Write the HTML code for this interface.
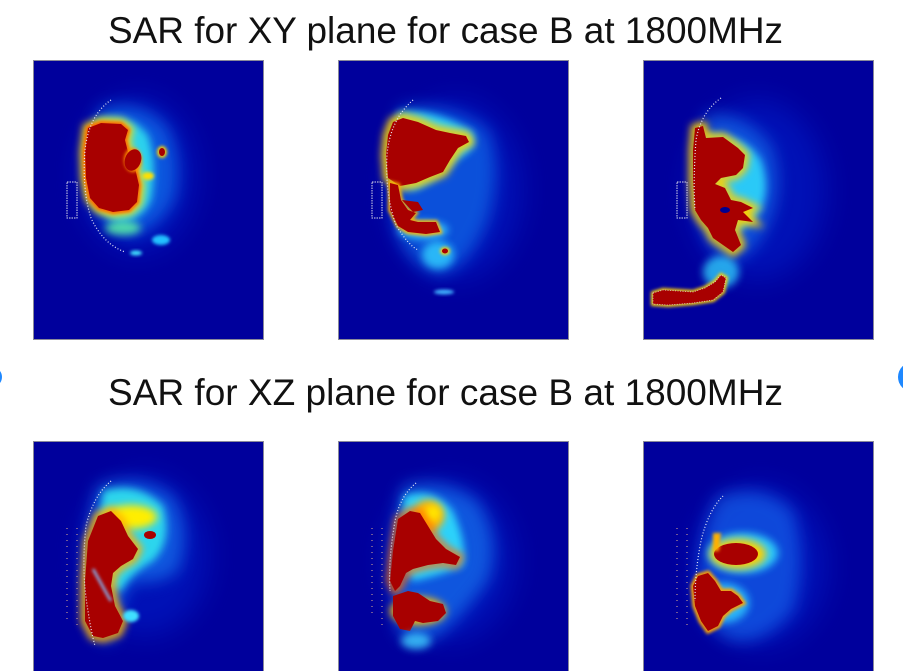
<!DOCTYPE html>
<html><head><meta charset="utf-8"><style>
html,body{margin:0;padding:0;background:#fff;width:903px;height:671px;overflow:hidden;}
svg{display:block;}
</style></head><body>
<svg width="903" height="671" viewBox="0 0 903 671" xmlns="http://www.w3.org/2000/svg">
<defs>
<filter id="b2" x="-50%" y="-50%" width="200%" height="200%"><feGaussianBlur stdDeviation="1.5"/></filter>
<filter id="b4" x="-50%" y="-50%" width="200%" height="200%"><feGaussianBlur stdDeviation="4"/></filter>
<filter id="b8" x="-50%" y="-50%" width="200%" height="200%"><feGaussianBlur stdDeviation="8"/></filter>
<filter id="b14" x="-50%" y="-50%" width="200%" height="200%"><feGaussianBlur stdDeviation="14"/></filter>
<clipPath id="cp"><rect x="0" y="0" width="231" height="280"/></clipPath>
<clipPath id="cpb"><rect x="0" y="0" width="231" height="230"/></clipPath>
</defs>
<rect width="903" height="671" fill="#fff"/>
<circle cx="-8" cy="377" r="10" fill="#1e88ff"/>
<circle cx="913" cy="377" r="15" fill="#1e88ff"/>

<text x="108" y="43" font-family="Liberation Sans, Arial, sans-serif" font-size="37" fill="#111" textLength="675" lengthAdjust="spacingAndGlyphs">SAR for XY plane for case B at 1800MHz</text>
<text x="108" y="405" font-family="Liberation Sans, Arial, sans-serif" font-size="37" fill="#111" textLength="675" lengthAdjust="spacingAndGlyphs">SAR for XZ plane for case B at 1800MHz</text>

<!-- Panel 1 -->
<g transform="translate(33,60)">
<g clip-path="url(#cp)">
<rect width="231" height="280" fill="#00009c"/>
<ellipse cx="105" cy="115" rx="58" ry="78" fill="#0030e8" opacity="0.35" filter="url(#b14)"/>
<path d="M68,48 Q110,38 135,68 Q150,100 142,138 Q128,168 98,176 Q70,172 60,140 Q52,90 68,48 Z" fill="#1890ff" opacity="0.55" filter="url(#b8)"/>
<path d="M62,60 Q95,50 115,75 Q125,105 118,140 Q108,162 85,162 Q62,155 56,130 Z" fill="#30e8f0" opacity="0.85" filter="url(#b4)"/>
<path d="M55,68 L68,63 L88,64 L95,70 L92,80 L95,92 L102,108 L106,125 L104,142 L96,150 L80,152 L66,148 L57,138 L53,118 L52,92 Z" fill="none" stroke="#ffd800" stroke-width="10" filter="url(#b4)"/>
<path d="M55,68 L68,63 L88,64 L95,70 L92,80 L95,92 L102,108 L106,125 L104,142 L96,150 L80,152 L66,148 L57,138 L53,118 L52,92 Z" fill="none" stroke="#ff6000" stroke-width="4" filter="url(#b2)"/>
<path d="M55,68 L68,63 L88,64 L95,70 L92,80 L95,92 L102,108 L106,125 L104,142 L96,150 L80,152 L66,148 L57,138 L53,118 L52,92 Z" fill="#a80000"/>
<ellipse cx="100" cy="100" rx="9" ry="12" fill="#ff9000" filter="url(#b2)"/>
<ellipse cx="100" cy="100" rx="8" ry="11" fill="#a80000" transform="rotate(20 100 100)"/>
<ellipse cx="129" cy="92" rx="5" ry="6" fill="#ffd000" filter="url(#b2)"/>
<ellipse cx="129" cy="92" rx="3" ry="4" fill="#a80000"/>
<ellipse cx="115" cy="116" rx="6" ry="4" fill="#ffe000" filter="url(#b2)"/>
<ellipse cx="90" cy="168" rx="18" ry="7" fill="#60ffa0" opacity="0.8" filter="url(#b4)"/>
<ellipse cx="128" cy="180" rx="9" ry="5" fill="#20c0ff" filter="url(#b2)"/>
<ellipse cx="103" cy="193" rx="6" ry="2.5" fill="#40e0ff" filter="url(#b2)"/>
<path d="M78,40 Q56,55 52,90 Q49,130 58,158 Q70,184 92,192" fill="none" stroke="#e8e8f8" stroke-width="1.2" stroke-dasharray="1 2"/>
<rect x="34" y="122" width="10" height="36" fill="none" stroke="#d8d8e8" stroke-width="1" stroke-dasharray="1.5 1"/>
</g>
<rect x="0.5" y="0.5" width="230" height="279" fill="none" stroke="#8a8a9a" stroke-width="1"/>
</g>

<!-- Panel 2 -->
<g transform="translate(338,60)">
<g clip-path="url(#cp)">
<rect width="231" height="280" fill="#00009c"/>
<ellipse cx="118" cy="130" rx="66" ry="90" fill="#0030e8" opacity="0.35" filter="url(#b14)"/>
<path d="M62,48 Q110,40 150,70 Q165,110 150,160 Q130,210 100,215 Q70,205 58,170 Q48,110 62,48 Z" fill="#1890ff" opacity="0.5" filter="url(#b8)"/>
<path d="M60,52 Q95,48 135,72 Q140,90 120,98 Q100,120 75,130 Q55,125 52,95 Z" fill="#30e8ff" opacity="0.85" filter="url(#b4)"/>
<ellipse cx="100" cy="195" rx="16" ry="14" fill="#30d0ff" opacity="0.8" filter="url(#b4)"/>
<ellipse cx="85" cy="170" rx="25" ry="9" fill="#40e0ff" opacity="0.8" filter="url(#b4)"/>
<path d="M55,62 L65,58 L80,62 L98,70 L112,73 L128,76 L131,82 L120,88 L112,100 L105,112 L92,117 L78,123 L62,126 L50,118 L48,95 L50,75 Z" fill="none" stroke="#ffd000" stroke-width="9" filter="url(#b4)"/>
<path d="M55,62 L65,58 L80,62 L98,70 L112,73 L128,76 L131,82 L120,88 L112,100 L105,112 L92,117 L78,123 L62,126 L50,118 L48,95 L50,75 Z" fill="#a80000"/>
<path d="M52,123 L60,125 L63,140 L70,150 L78,153 L72,160 L80,162 L98,162 L102,172 L88,174 L70,172 L60,166 L52,150 Z" fill="none" stroke="#ffb000" stroke-width="4" filter="url(#b2)"/>
<path d="M52,123 L60,125 L63,140 L70,150 L78,153 L72,160 L80,162 L98,162 L102,172 L88,174 L70,172 L60,166 L52,150 Z" fill="#a80000"/>
<path d="M64,140 L80,142 L85,150 L75,152 Z" fill="#a80000"/>
<ellipse cx="107" cy="191" rx="5" ry="4" fill="#ffd000" filter="url(#b2)"/>
<ellipse cx="107" cy="191" rx="3" ry="2.5" fill="#a80000"/>
<ellipse cx="106" cy="232" rx="10" ry="2.5" fill="#40b0ff" filter="url(#b2)"/>
<path d="M75,40 Q52,60 49,95 Q47,135 58,165 Q70,185 80,190" fill="none" stroke="#e8e8f8" stroke-width="1.2" stroke-dasharray="1 2"/>
<rect x="34" y="122" width="10" height="36" fill="none" stroke="#d8d8e8" stroke-width="1" stroke-dasharray="1.5 1"/>
</g>
<rect x="0.5" y="0.5" width="230" height="279" fill="none" stroke="#8a8a9a" stroke-width="1"/>
</g>

<!-- Panel 3 -->
<g transform="translate(643,60)">
<g clip-path="url(#cp)">
<rect width="231" height="280" fill="#00009c"/>
<ellipse cx="115" cy="130" rx="68" ry="90" fill="#0030e8" opacity="0.35" filter="url(#b14)"/>
<path d="M62,55 Q100,50 128,85 Q145,130 120,175 Q100,205 80,200 Q58,180 55,140 Z" fill="#1a90ff" opacity="0.5" filter="url(#b8)"/>
<path d="M60,75 Q100,72 118,100 Q130,135 112,158 Q90,180 70,170 Q55,140 60,75 Z" fill="#30e8ff" opacity="0.8" filter="url(#b4)"/>
<ellipse cx="78" cy="212" rx="18" ry="16" fill="#30d8ff" opacity="0.75" filter="url(#b4)"/>
<path d="M52,68 L60,66 L63,78 L80,77 L95,88 L102,95 L100,108 L93,115 L78,118 L72,124 L82,128 L88,140 L98,142 L110,148 L100,152 L110,162 L95,160 L92,170 L98,185 L90,192 L80,185 L70,178 L65,168 L58,160 L52,150 L50,120 L50,90 Z" fill="none" stroke="#ffd000" stroke-width="8" filter="url(#b4)"/>
<path d="M52,68 L60,66 L63,78 L80,77 L95,88 L102,95 L100,108 L93,115 L78,118 L72,124 L82,128 L88,140 L98,142 L110,148 L100,152 L110,162 L95,160 L92,170 L98,185 L90,192 L80,185 L70,178 L65,168 L58,160 L52,150 L50,120 L50,90 Z" fill="#a80000"/>
<path d="M10,233 L20,230 L50,232 L62,228 L72,222 L78,215 L83,218 L80,232 L70,240 L50,243 L25,245 L10,244 Z" fill="none" stroke="#ffd000" stroke-width="4" filter="url(#b2)"/>
<path d="M10,233 L20,230 L50,232 L62,228 L72,222 L78,215 L83,218 L80,232 L70,240 L50,243 L25,245 L10,244 Z" fill="#a80000" stroke="#e0d0d0" stroke-width="0.8" stroke-dasharray="1 1.5"/>
<ellipse cx="82" cy="150" rx="5" ry="3" fill="#000090"/>
<path d="M78,38 Q58,52 53,80 Q50,120 52,150" fill="none" stroke="#e8e8f8" stroke-width="1.2" stroke-dasharray="1 2"/>
<rect x="34" y="122" width="10" height="36" fill="none" stroke="#d8d8e8" stroke-width="1" stroke-dasharray="1.5 1"/>
</g>
<rect x="0.5" y="0.5" width="230" height="279" fill="none" stroke="#8a8a9a" stroke-width="1"/>
</g>

<!-- Panel 4 -->
<g transform="translate(33,441)">
<g clip-path="url(#cpb)">
<rect width="231" height="230" fill="#00009c"/>
<ellipse cx="112" cy="115" rx="64" ry="80" fill="#0030e8" opacity="0.35" filter="url(#b14)"/>
<path d="M65,45 Q105,30 140,55 Q160,90 145,130 Q125,145 100,140 Q85,160 80,200 Q60,205 55,170 Q50,90 65,45 Z" fill="#1a90ff" opacity="0.55" filter="url(#b8)"/>
<path d="M70,50 Q105,40 130,65 Q140,100 120,120 Q98,132 88,150 Q70,150 62,110 Z" fill="#30ecf0" opacity="0.85" filter="url(#b4)"/>
<ellipse cx="98" cy="76" rx="26" ry="12" fill="#ffee00" filter="url(#b4)"/>
<path d="M65,75 L78,70 L88,80 L95,95 L105,108 L100,118 L88,125 L80,132 L78,145 L82,165 L90,180 L85,192 L70,197 L60,195 L52,180 L52,140 L55,100 Z" fill="none" stroke="#ffb000" stroke-width="8" filter="url(#b4)"/>
<path d="M65,75 L78,70 L88,80 L95,95 L105,108 L100,118 L88,125 L80,132 L78,145 L82,165 L90,180 L85,192 L70,197 L60,195 L52,180 L52,140 L55,100 Z" fill="#a80000"/>
<path d="M60,128 L75,155 L78,160" fill="none" stroke="#80c0ff" stroke-width="2.5" filter="url(#b2)"/>
<ellipse cx="117" cy="94" rx="6" ry="4" fill="#a80000"/>
<ellipse cx="98" cy="175" rx="8" ry="6" fill="#40e0ff" filter="url(#b2)"/>
<path d="M78,40 Q60,55 53,85 Q48,130 55,170 Q58,190 62,205" fill="none" stroke="#e8e8f8" stroke-width="1.2" stroke-dasharray="1 2"/>
<line x1="34" y1="87" x2="34" y2="183" stroke="#e0b090" stroke-width="1" stroke-dasharray="1 5"/>
<line x1="44" y1="87" x2="44" y2="188" stroke="#e0b090" stroke-width="1" stroke-dasharray="1 5"/>
</g>
<path d="M0.5,230 V0.5 H230.5 V230" fill="none" stroke="#8a8a9a" stroke-width="1"/>
</g>

<!-- Panel 5 -->
<g transform="translate(338,441)">
<g clip-path="url(#cpb)">
<rect width="231" height="230" fill="#00009c"/>
<ellipse cx="112" cy="120" rx="64" ry="80" fill="#0030e8" opacity="0.35" filter="url(#b14)"/>
<path d="M65,45 Q105,35 140,60 Q165,100 150,140 Q125,175 100,195 Q75,210 60,190 Q50,100 65,45 Z" fill="#1a90ff" opacity="0.55" filter="url(#b8)"/>
<path d="M66,55 Q95,45 115,70 Q130,105 125,125 Q100,135 75,140 Q58,120 66,55 Z" fill="#30e8ff" opacity="0.85" filter="url(#b4)"/>
<ellipse cx="90" cy="75" rx="16" ry="16" fill="#ffb000" filter="url(#b4)"/>
<ellipse cx="95" cy="72" rx="8" ry="8" fill="#ffe800" filter="url(#b4)"/>
<path d="M60,78 L72,70 L82,72 L90,85 L98,98 L108,108 L122,116 L118,124 L105,122 L90,124 L75,128 L68,132 L62,145 L57,150 L52,140 L55,110 Z" fill="none" stroke="#ff7000" stroke-width="6" filter="url(#b4)"/>
<path d="M60,78 L72,70 L82,72 L90,85 L98,98 L108,108 L122,116 L118,124 L105,122 L90,124 L75,128 L68,132 L62,145 L57,150 L52,140 L55,110 Z" fill="#a80000"/>
<ellipse cx="80" cy="170" rx="28" ry="14" fill="#ffc000" filter="url(#b4)"/>
<path d="M55,155 L70,150 L80,152 L92,160 L105,163 L108,172 L100,180 L85,182 L77,180 L72,190 L62,188 L55,175 Z" fill="#a80000"/>
<ellipse cx="78" cy="200" rx="15" ry="8" fill="#40d0ff" opacity="0.8" filter="url(#b4)"/>
<path d="M78,42 Q62,55 57,80 Q50,120 52,150" fill="none" stroke="#e8e8f8" stroke-width="1.2" stroke-dasharray="1 2"/>
<line x1="34" y1="87" x2="34" y2="172" stroke="#e0b090" stroke-width="1" stroke-dasharray="1 5"/>
<line x1="44" y1="87" x2="44" y2="188" stroke="#e0b090" stroke-width="1" stroke-dasharray="1 5"/>
</g>
<path d="M0.5,230 V0.5 H230.5 V230" fill="none" stroke="#8a8a9a" stroke-width="1"/>
</g>

<!-- Panel 6 -->
<g transform="translate(643,441)">
<g clip-path="url(#cpb)">
<rect width="231" height="230" fill="#00009c"/>
<ellipse cx="118" cy="125" rx="66" ry="80" fill="#0030e8" opacity="0.35" filter="url(#b14)"/>
<path d="M75,55 Q120,40 150,70 Q165,120 150,170 Q120,205 90,200 Q60,190 55,150 Q55,90 75,55 Z" fill="#1a80ff" opacity="0.5" filter="url(#b8)"/>
<ellipse cx="100" cy="112" rx="35" ry="20" fill="#30e0ff" opacity="0.85" filter="url(#b4)"/>
<ellipse cx="95" cy="113" rx="28" ry="15" fill="#ffd000" filter="url(#b4)"/>
<ellipse cx="93" cy="113" rx="22" ry="11" fill="#a80000"/>
<path d="M70,92 L78,92 L76,110 L70,110 Z" fill="#ffb000" filter="url(#b2)"/>
<ellipse cx="80" cy="162" rx="26" ry="20" fill="#30d0ff" opacity="0.8" filter="url(#b4)"/>
<path d="M55,135 L65,132 L72,140 L78,150 L88,150 L95,155 L100,162 L88,168 L80,175 L75,185 L65,190 L58,180 L52,165 L50,145 Z" fill="none" stroke="#ffa000" stroke-width="5" filter="url(#b2)"/>
<path d="M55,135 L65,132 L72,140 L78,150 L88,150 L95,155 L100,162 L88,168 L80,175 L75,185 L65,190 L58,180 L52,165 L50,145 Z" fill="#a80000"/>
<path d="M80,55 Q65,70 58,100 Q52,130 52,160" fill="none" stroke="#e8e8f8" stroke-width="1.2" stroke-dasharray="1 2"/>
<line x1="34" y1="87" x2="34" y2="182" stroke="#e0b090" stroke-width="1" stroke-dasharray="1 5"/>
<line x1="44" y1="87" x2="44" y2="188" stroke="#e0b090" stroke-width="1" stroke-dasharray="1 5"/>
</g>
<path d="M0.5,230 V0.5 H230.5 V230" fill="none" stroke="#8a8a9a" stroke-width="1"/>
</g>
</svg>
</body></html>
